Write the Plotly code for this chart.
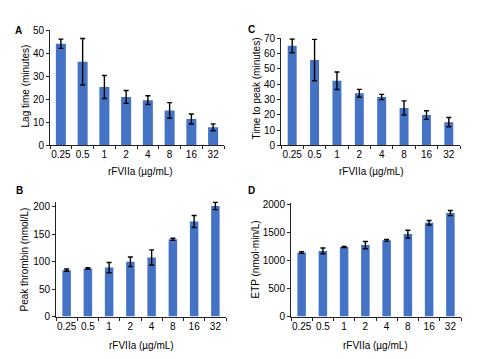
import plotly.graph_objects as go

categories = ["0.25", "0.5", "1", "2", "4", "8", "16", "32"]

lag_time = [44.2, 36.4, 25.4, 21.1, 19.7, 15.2, 11.5, 7.9]
lag_time_err = [2.0, 10.1, 5.0, 2.8, 1.9, 3.4, 2.2, 1.5]

time_to_peak = [65.0, 55.7, 42.2, 34.0, 31.6, 24.5, 19.8, 15.2]
time_to_peak_err = [4.5, 13.5, 5.7, 2.6, 1.7, 4.6, 2.8, 3.0]

peak_thrombin = [84.7, 87.6, 89.4, 100.0, 108.0, 141.0, 173.5, 202.0]
peak_thrombin_err = [2.0, 1.5, 9.4, 8.8, 13.8, 2.0, 11.0, 6.8]

etp = [1138, 1167, 1236, 1270, 1356, 1465, 1667, 1839]
etp_err = [15, 50, 10, 65, 15, 70, 40, 45]

W, H = 478, 359
BLUE = "#4472C4"
FONT = "Liberation Sans, Arial, sans-serif"

def px_x(v):
    return v / W

def px_y(v):
    return 1 - v / H

fig = go.Figure()

panels = [
    (lag_time, lag_time_err, "x", "y", 0.46),
    (time_to_peak, time_to_peak_err, "x2", "y2", 0.40),
    (peak_thrombin, peak_thrombin_err, "x3", "y3", 0.40),
    (etp, etp_err, "x4", "y4", 0.40),
]
for vals, errs, xa, ya, wd in panels:
    fig.add_trace(go.Bar(
        x=categories, y=vals, xaxis=xa, yaxis=ya, width=wd,
        marker=dict(color=BLUE, line=dict(width=0)),
        error_y=dict(type="data", array=errs, visible=True,
                     color="black", thickness=1.4, width=2.5),
        showlegend=False,
    ))

tickfont = dict(family=FONT, size=10, color="#000")
xcommon = dict(type="category", showline=True, linecolor="#222", linewidth=1,
               ticks="outside", ticklen=3, tickcolor="#222", tickson="boundaries",
               tickangle=0, showgrid=False, tickfont=tickfont, fixedrange=True)
ycommon = dict(showline=True, linecolor="#222", linewidth=1, ticks="outside",
               ticklen=3, tickcolor="#222", showgrid=False, zeroline=False,
               tickfont=tickfont, fixedrange=True)

fig.update_layout(
    width=W, height=H,
    margin=dict(l=0, r=0, t=0, b=0),
    paper_bgcolor="white", plot_bgcolor="white",
    font=dict(family=FONT, color="#000"),
    xaxis=dict(domain=[px_x(42), px_x(216)], anchor="y", **xcommon),
    yaxis=dict(domain=[px_y(136), px_y(17)], anchor="x", range=[0, 50], dtick=10, **ycommon),
    xaxis2=dict(domain=[px_x(273), px_x(452)], anchor="y2", **xcommon),
    yaxis2=dict(domain=[px_y(136), px_y(25)], anchor="x2", range=[0, 70], dtick=10, **ycommon),
    xaxis3=dict(domain=[px_x(48), px_x(218)], anchor="y3", **xcommon),
    yaxis3=dict(domain=[px_y(313), px_y(194)], anchor="x3", range=[0, 210], tickvals=[0, 50, 100, 150, 200], **ycommon),
    xaxis4=dict(domain=[px_x(283), px_x(453)], anchor="y4", **xcommon),
    yaxis4=dict(domain=[px_y(313), px_y(196)], anchor="x4", range=[0, 2010], tickvals=[0, 500, 1000, 1500, 2000], **ycommon),
)

def ann(text, x, y, size=10, angle=0, bold=False):
    fig.add_annotation(
        text=f"<b>{text}</b>" if bold else text,
        x=px_x(x), y=px_y(y), xref="paper", yref="paper",
        showarrow=False, textangle=angle, xanchor="center", yanchor="middle",
        font=dict(family=FONT, size=size, color="#000"),
    )

ann("A", 10, 17, 10, bold=True)
ann("C", 243, 16, 10, bold=True)
ann("B", 11, 183, 10, bold=True)
ann("D", 243, 183, 10, bold=True)

ann("Lag time (minutes)", 17, 75, 10, -90)
ann("Time to peak (minutes)", 248, 77, 10, -90)
ann("Peak thrombin (nmol/L)", 17, 254, 10, -90)
ann("ETP (nmol·min/L)", 248, 254, 10, -90)

ann("rFVIIa (µg/mL)", 132, 163, 10)
ann("rFVIIa (µg/mL)", 363, 163, 10)
ann("rFVIIa (µg/mL)", 133, 343, 10)
ann("rFVIIa (µg/mL)", 367, 343, 10)

fig.write_html("out.html")
